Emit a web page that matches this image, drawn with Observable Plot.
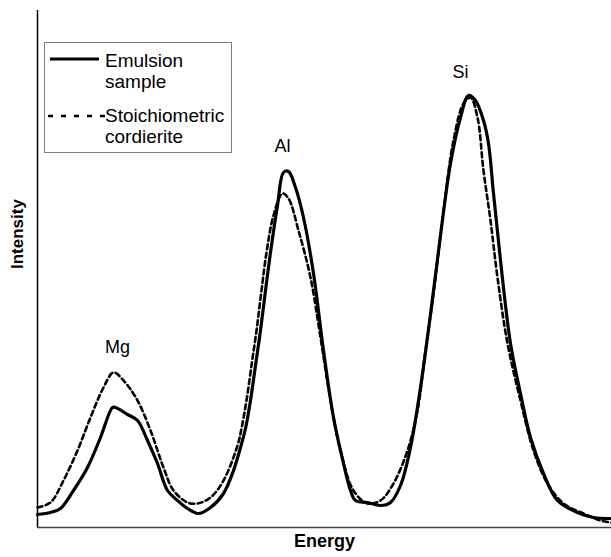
<!DOCTYPE html>
<html>
<head>
<meta charset="utf-8">
<script src="https://cdn.jsdelivr.net/npm/d3@7"></script>
<script src="https://cdn.jsdelivr.net/npm/@observablehq/plot@0.6"></script>
<style>
  html, body { margin: 0; padding: 0; background: #fff; }
  #wrap { position: relative; width: 611px; height: 557px; font-family: "Liberation Sans", Arial, sans-serif; }
  #legend { position: absolute; left: 44px; top: 42px; width: 188px; height: 111px; box-sizing: border-box; border: 1px solid #808080; background: #fff; }
  #legend svg { display: block; }
</style>
</head>
<body>
<div id="wrap"></div>
<script>
// Series (energy in arbitrary units, intensity in arbitrary units)
const emulsionEnergy = [0,13,23,36,50,63,75,78,90,100,110,120,130,140,150,161,173,186,196,203,208,213,218,223,228,233,240,246,251,258,266,276,286,296,306,313,318,330,343,353,363,373,383,393,403,413,423,431,438,446,451,456,463,473,483,493,506,520,540,556,574];
const emulsionIntensity = [13,15,19,37,60,90,120,120,113,107,87,64,37,27,19,14,20,34,57,80,99,127,162,197,237,275,322,355,356,340,310,254,177,110,64,37,27,25,22,25,42,80,140,213,292,364,410,432,427,407,384,334,267,184,134,90,54,27,15,10,9];
const cordieriteEnergy = [0,13,26,40,53,66,76,86,100,113,126,136,150,160,173,186,200,204,209,214,219,224,229,236,245,251,261,273,283,293,303,316,330,343,356,370,380,388,396,406,416,426,433,440,446,453,460,470,483,496,510,526,546,563,574];
const cordieriteIntensity = [20,25,47,77,110,140,155,147,127,97,60,37,25,24,30,47,82,99,127,162,197,237,275,312,334,329,297,250,190,127,77,37,24,27,44,77,117,177,234,317,387,424,430,410,357,307,250,184,127,77,44,24,14,7,5];
const seriesNames = ["Emulsion sample", "Stoichiometric cordierite"];
const peakNames = ["Mg", "Al", "Si"];
const peakEnergy = [80, 245, 423];
const peakLabelIntensity = [180, 381, 455];

const emulsion = emulsionEnergy.map((e, i) => ({energy: e, intensity: emulsionIntensity[i]}));
const cordierite = cordieriteEnergy.map((e, i) => ({energy: e, intensity: cordieriteIntensity[i]}));
const peaks = peakNames.map((n, i) => ({name: n, energy: peakEnergy[i], intensity: peakLabelIntensity[i]}));

const font = "'Liberation Sans', Arial, sans-serif";

const chart = Plot.plot({
  width: 611,
  height: 557,
  marginLeft: 37,
  marginRight: 0,
  marginTop: 10,
  marginBottom: 30,
  style: {fontFamily: font, background: "#fff", color: "#000"},
  x: {domain: [0, 574], axis: null},
  y: {domain: [0, 517], axis: null},
  marks: [
    Plot.line(cordierite, {x: "energy", y: "intensity", stroke: "#000", strokeWidth: 2.6, strokeDasharray: "5,3.5", curve: "catmull-rom"}),
    Plot.line(emulsion, {x: "energy", y: "intensity", stroke: "#000", strokeWidth: 3.2, curve: "catmull-rom"}),
    Plot.ruleX([0], {stroke: "#000", strokeWidth: 1.5}),
    Plot.ruleY([0], {stroke: "#444", strokeWidth: 1.5}),
    Plot.text(peaks, {x: "energy", y: "intensity", text: "name", fontSize: 18, fill: "#000"}),
    Plot.text(["Energy"], {frameAnchor: "bottom", dy: 19, text: d => d, fontSize: 18, fontWeight: "bold", fill: "#000"}),
    Plot.text(["Intensity"], {frameAnchor: "left", dx: -20, rotate: -90, text: d => d, fontSize: 17, fontWeight: "bold", fill: "#000"})
  ]
});

const wrap = document.getElementById("wrap");
wrap.appendChild(chart);

// Legend
const legend = document.createElement("div");
legend.id = "legend";
const ns = "http://www.w3.org/2000/svg";
const svg = document.createElementNS(ns, "svg");
svg.setAttribute("width", 186);
svg.setAttribute("height", 109);
const entries = [
  {lines: ["Emulsion", "sample"], dash: null, width: 3.2, y: 16, base: 24},
  {lines: ["Stoichiometric", "cordierite"], dash: "5,8", width: 2.6, y: 73, base: 79}
];
entries.forEach((e, k) => {
  const ln = document.createElementNS(ns, "line");
  ln.setAttribute("x1", k === 0 ? 5 : 3);
  ln.setAttribute("x2", k === 0 ? 54 : 60);
  ln.setAttribute("y1", e.y);
  ln.setAttribute("y2", e.y);
  ln.setAttribute("stroke", "#000");
  ln.setAttribute("stroke-width", e.width);
  if (e.dash) ln.setAttribute("stroke-dasharray", e.dash);
  svg.appendChild(ln);
  e.lines.forEach((t, j) => {
    const tx = document.createElementNS(ns, "text");
    tx.setAttribute("x", 60);
    tx.setAttribute("y", e.base + j * 21);
    tx.setAttribute("font-family", font);
    tx.setAttribute("font-size", 19);
    tx.setAttribute("fill", "#000");
    tx.textContent = t;
    svg.appendChild(tx);
  });
});
legend.appendChild(svg);
wrap.appendChild(legend);
</script>
</body>
</html>
